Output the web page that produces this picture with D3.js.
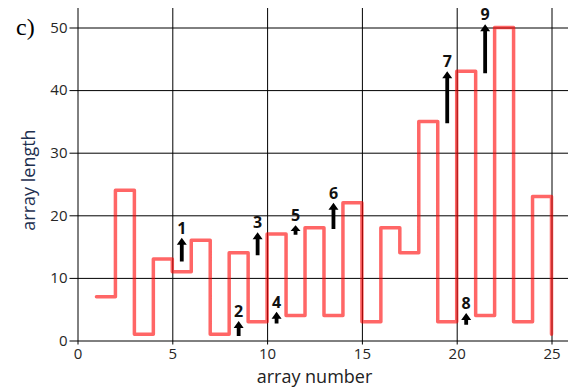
<!DOCTYPE html>
<html>
<head>
<meta charset="utf-8">
<script src="https://cdn.jsdelivr.net/npm/d3@7"></script>
<style>
  html, body { margin: 0; padding: 0; background: #fff; }
  svg { display: block; }
</style>
</head>
<body>
<svg id="chart" width="576" height="390"></svg>
<script>
// ---- data ----
const arrayNumber = [1,2,3,4,5,6,7,8,9,10,11,12,13,14,15,16,17,18,19,20,21,22,23,24,25];
const arrayLength = [7,24,1,13,11,16,1,14,3,17,4,18,4,22,3,18,14,35,3,43,4,50,3,23,1];
const arrowLabels = ["1","2","3","4","5","6","7","8","9"];
const arrowX      = [5.5, 8.5, 9.5, 10.5, 11.5, 13.5, 19.5, 20.5, 21.5];
const arrowFrom   = [12.6, 0.7, 13.6, 2.7, 16.9, 17.8, 34.7, 2.5, 42.7];
const arrowTo     = [16.4, 3.1, 17.3, 4.6, 18.4, 22.0, 43.0, 4.4, 50.5];
const xTicks = [0,5,10,15,20,25];
const yTicks = [0,10,20,30,40,50];

// ---- layout ----
const svg = d3.select("#chart");
const x = d3.scaleLinear().domain([0, 25]).range([77.5, 551.5]);
const y = d3.scaleLinear().domain([0, 50]).range([340.5, 27.5]);
const plotTop = 8, plotRight = 568;

// vertical grid + ticks (x axis)
const xAxis = d3.axisBottom(x).tickValues(xTicks).tickPadding(6);
const gx = svg.append("g").attr("transform", `translate(0,${y(0)})`).call(xAxis);
gx.select(".domain").remove();
gx.selectAll(".tick line").attr("y1", 4).attr("y2", -(y(0) - plotTop)).attr("stroke", "#000");
gx.selectAll(".tick text").attr("font-family", "Open Sans").attr("font-size", 15).attr("fill", "#262626").attr("y", 8).attr("dy", "0.71em");

// horizontal grid + ticks (y axis)
const yAxis = d3.axisLeft(y).tickValues(yTicks).tickPadding(3);
const gy = svg.append("g").attr("transform", `translate(${x(0)},0)`).call(yAxis);
gy.select(".domain").remove();
gy.selectAll(".tick line").attr("x1", -8).attr("x2", plotRight - x(0)).attr("stroke", "#000");
gy.selectAll(".tick text").attr("font-family", "Open Sans").attr("font-size", 15).attr("fill", "#262626").attr("x", -10);

// step line
const pts = arrayNumber.map((d, i) => [d, arrayLength[i]]);
const line = d3.line().x(d => x(d[0])).y(d => y(d[1])).curve(d3.curveStepAfter);
svg.append("path")
  .attr("d", line(pts))
  .attr("fill", "none")
  .attr("stroke", "#ff0000")
  .attr("stroke-opacity", 0.6)
  .attr("stroke-width", 3.5)
  .attr("stroke-linejoin", "round")
  .attr("stroke-linecap", "round");

// arrows
const ag = svg.append("g");
arrowLabels.forEach((lab, i) => {
  const cx = x(arrowX[i]);
  const yt = y(arrowTo[i]);
  const yb = y(arrowFrom[i]);
  const headLen = Math.min(7, (yb - yt) * 0.6);
  const hw = 5, sw = 1.9;
  const p = d3.path();
  p.moveTo(cx, yt);
  p.lineTo(cx + hw, yt + headLen);
  p.lineTo(cx + sw, yt + headLen);
  p.lineTo(cx + sw, yb);
  p.lineTo(cx - sw, yb);
  p.lineTo(cx - sw, yt + headLen);
  p.lineTo(cx - hw, yt + headLen);
  p.closePath();
  ag.append("path").attr("d", p.toString()).attr("fill", "#000");
  ag.append("text")
    .attr("x", cx).attr("y", yt - 4)
    .attr("text-anchor", "middle")
    .attr("font-family", "Open Sans").attr("font-weight", "bold").attr("font-size", 16)
    .attr("fill", "#111")
    .text(lab);
});

// axis titles
svg.append("text")
  .attr("x", x(12.5)).attr("y", 383)
  .attr("text-anchor", "middle")
  .attr("font-family", "Open Sans").attr("font-size", 18).attr("fill", "#222")
  .text("array number");
svg.append("text")
  .attr("transform", `translate(35,180) rotate(-90)`)
  .attr("text-anchor", "middle")
  .attr("font-family", "Open Sans").attr("font-size", 18).attr("fill", "#1e3050")
  .text("array length");

// panel label
svg.append("text")
  .attr("x", 16).attr("y", 35)
  .attr("font-family", "Liberation Serif").attr("font-size", 24).attr("fill", "#000")
  .text("c)");
</script>
</body>
</html>
